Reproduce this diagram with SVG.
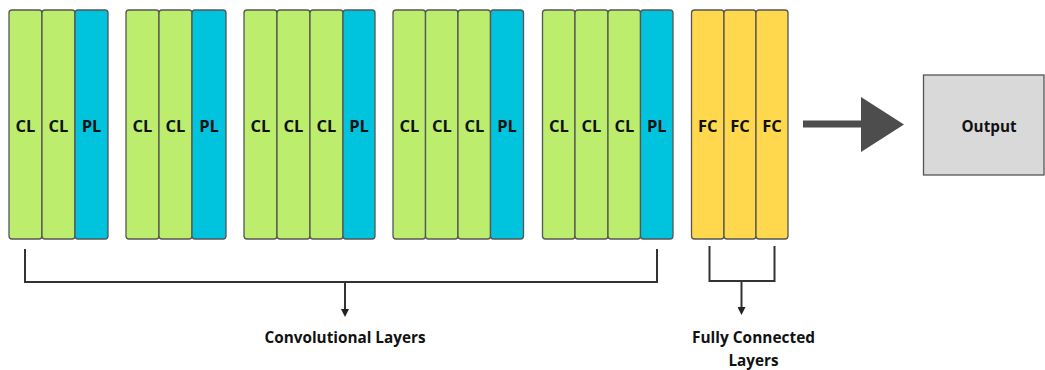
<svg xmlns="http://www.w3.org/2000/svg" width="1045" height="370" viewBox="0 0 1045 370">
<style>
.cl{fill:#bced6c;stroke:#555;stroke-width:1.3}
.pl{fill:#00c4de;stroke:#555;stroke-width:1.3}
.fc{fill:#ffd84e;stroke:#555;stroke-width:1.3}
.t{font-family:"Open Sans","Liberation Sans",sans-serif;font-weight:bold;font-size:16.5px;fill:#111;text-anchor:middle}
.o{font-family:"Open Sans","Liberation Sans",sans-serif;font-weight:bold;font-size:16px;fill:#111;text-anchor:middle}
.lbl{font-family:"Open Sans","Liberation Sans",sans-serif;font-weight:bold;font-size:16.5px;fill:#111;text-anchor:middle}
.br{fill:none;stroke:#333;stroke-width:2}
</style>
<defs>
<marker id="ah" markerWidth="8" markerHeight="8" refX="4" refY="4" orient="auto" markerUnits="userSpaceOnUse">
<path d="M0,0 L8,4 L0,8 z" fill="#222"/>
</marker>
</defs>
<rect width="1045" height="370" fill="#fff"/>
<g id="group1">
<rect class="cl" x="9" y="10" width="33" height="229" rx="3"/>
<rect class="cl" x="42" y="10" width="33" height="229" rx="3"/>
<rect class="pl" x="75" y="10" width="33" height="229" rx="3"/>
<text class="t" x="25.5" y="132">CL</text>
<text class="t" x="58.5" y="132">CL</text>
<text class="t" x="91.5" y="132">PL</text>
</g>
<g id="group2">
<rect class="cl" x="126" y="10" width="33" height="229" rx="3"/>
<rect class="cl" x="159" y="10" width="33" height="229" rx="3"/>
<rect class="pl" x="192" y="10" width="34" height="229" rx="3"/>
<text class="t" x="142.5" y="132">CL</text>
<text class="t" x="175.5" y="132">CL</text>
<text class="t" x="209" y="132">PL</text>
</g>
<g id="group3">
<rect class="cl" x="244" y="10" width="33" height="229" rx="3"/>
<rect class="cl" x="277" y="10" width="33" height="229" rx="3"/>
<rect class="cl" x="310" y="10" width="33" height="229" rx="3"/>
<rect class="pl" x="343" y="10" width="32" height="229" rx="3"/>
<text class="t" x="260.5" y="132">CL</text>
<text class="t" x="293.5" y="132">CL</text>
<text class="t" x="326.5" y="132">CL</text>
<text class="t" x="359" y="132">PL</text>
</g>
<g id="group4">
<rect class="cl" x="393" y="10" width="32.5" height="229" rx="3"/>
<rect class="cl" x="425.5" y="10" width="32.5" height="229" rx="3"/>
<rect class="cl" x="458" y="10" width="32.5" height="229" rx="3"/>
<rect class="pl" x="490.5" y="10" width="33" height="229" rx="3"/>
<text class="t" x="409.3" y="132">CL</text>
<text class="t" x="441.8" y="132">CL</text>
<text class="t" x="474.3" y="132">CL</text>
<text class="t" x="507" y="132">PL</text>
</g>
<g id="group5">
<rect class="cl" x="542.5" y="10" width="32.5" height="229" rx="3"/>
<rect class="cl" x="575" y="10" width="33" height="229" rx="3"/>
<rect class="cl" x="608" y="10" width="32.5" height="229" rx="3"/>
<rect class="pl" x="640.5" y="10" width="32.5" height="229" rx="3"/>
<text class="t" x="558.8" y="132">CL</text>
<text class="t" x="591.5" y="132">CL</text>
<text class="t" x="624.3" y="132">CL</text>
<text class="t" x="656.8" y="132">PL</text>
</g>
<g id="fc-group">
<rect class="fc" x="691.5" y="10" width="32.5" height="229" rx="3"/>
<rect class="fc" x="724" y="10" width="32" height="229" rx="3"/>
<rect class="fc" x="756" y="10" width="32" height="229" rx="3"/>
<text class="t" x="707.8" y="132">FC</text>
<text class="t" x="740" y="132">FC</text>
<text class="t" x="772" y="132">FC</text>
</g>
<g id="output">
<rect x="923.5" y="75" width="120.5" height="100" fill="#d9d9d9" stroke="#555" stroke-width="1.3"/>
<text class="o" x="989" y="131.5" textLength="55" lengthAdjust="spacingAndGlyphs">Output</text>
</g>
<g id="connectors">
<path class="br" d="M25,249 V282 H657 V249"/>
<path class="br" d="M345,282 V313" marker-end="url(#ah)"/>
<path class="br" d="M709.5,246 V281 H774.5 V246"/>
<path class="br" d="M741.5,281 V311" marker-end="url(#ah)"/>
<path d="M803,124 H864" stroke="#4d4d4d" stroke-width="7" fill="none"/>
<path d="M861,97 L904,124.5 L861,152 z" fill="#4d4d4d"/>
</g>
<g id="labels">
<text class="lbl" x="345" y="343" textLength="161" lengthAdjust="spacingAndGlyphs">Convolutional Layers</text>
<text class="lbl" x="753.5" y="343" textLength="123" lengthAdjust="spacingAndGlyphs">Fully Connected</text>
<text class="lbl" x="753.5" y="366" textLength="50" lengthAdjust="spacingAndGlyphs">Layers</text>
</g>
</svg>
